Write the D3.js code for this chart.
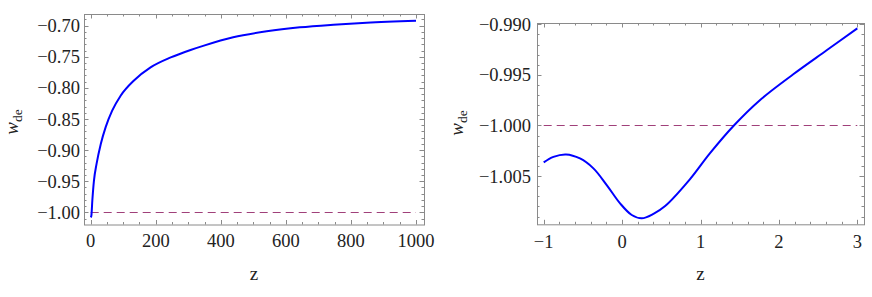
<!DOCTYPE html>
<html>
<head>
<meta charset="utf-8">
<script src="https://cdn.jsdelivr.net/npm/d3@7"></script>
<style>
  body { margin: 0; background: #fff; }
  svg { display: block; }
</style>
</head>
<body>
<svg width="872" height="297" font-family="'Liberation Serif', 'DejaVu Serif', serif"></svg>
<script>
// left panel: w_de over a long z range
var leftZ = [0, 2, 5, 10, 18, 31, 46, 66, 92, 133, 184, 246, 307, 348, 438, 541, 643, 746, 848, 1000];
var leftW = [-1.008, -1.0054, -0.981, -0.949, -0.922, -0.890, -0.863, -0.8366, -0.8125, -0.788, -0.767, -0.751, -0.739, -0.732, -0.7186, -0.709, -0.7026, -0.6984, -0.6952, -0.6922];
var leftXTicks = [0, 200, 400, 600, 800, 1000];
var leftYTicks = [-1.00, -0.95, -0.90, -0.85, -0.80, -0.75, -0.70];

// right panel: zoom on low z
var rightZ = [-1.0, -0.876, -0.715, -0.537, -0.366, -0.196, -0.026, 0.123, 0.251, 0.40, 0.549, 0.864, 1.119, 1.426, 1.757, 2.183, 2.609, 3.0];
var rightW = [-1.00365, -1.00310, -1.00286, -1.00326, -1.00424, -1.00589, -1.00770, -1.00885, -1.00918, -1.00874, -1.00797, -1.00533, -1.00276, -1.00000, -0.99750, -0.99494, -0.99257, -0.99040];
var rightXTicks = [-1, 0, 1, 2, 3];
var rightYTicks = [-1.005, -1.000, -0.995, -0.990];

var lambdaW = -1; // dashed reference line
var serif = "Liberation Serif";

var svg = d3.select("svg");

function tickValues(domain, step) {
    var out = [];
    var start = Math.ceil(domain[0] / step - 1e-9);
    var end = Math.floor(domain[1] / step + 1e-9);
    for (var i = start; i <= end; i++) out.push(i * step);
    return out;
}

function drawPanel(p) {
    var x = d3.scaleLinear().domain(p.xDomain).range([p.left, p.right]);
    var y = d3.scaleLinear().domain(p.yDomain).range([p.bottom, p.top]);
    var g = svg.append("g");
    var frameColor = "#8a8a8a";

    function isMajor(v, list) {
        return list.some(function(t) { return Math.abs(t - v) < 1e-9; });
    }

    // ticks on all four sides, pointing inward
    tickValues(p.xDomain, p.xMinor).forEach(function(v) {
        var len = isMajor(v, p.xTicks) ? 4.5 : 2.5;
        var px = Math.round(x(v)) + 0.5;
        g.append("line").attr("x1", px).attr("x2", px).attr("y1", p.bottom).attr("y2", p.bottom - len)
            .attr("stroke", frameColor);
        g.append("line").attr("x1", px).attr("x2", px).attr("y1", p.top).attr("y2", p.top + len)
            .attr("stroke", frameColor);
    });
    tickValues(p.yDomain, p.yMinor).forEach(function(v) {
        var len = isMajor(v, p.yTicks) ? 4.5 : 2.5;
        var py = Math.round(y(v)) + 0.5;
        g.append("line").attr("y1", py).attr("y2", py).attr("x1", p.left).attr("x2", p.left + len)
            .attr("stroke", frameColor);
        g.append("line").attr("y1", py).attr("y2", py).attr("x1", p.right).attr("x2", p.right - len)
            .attr("stroke", frameColor);
    });

    g.append("rect")
        .attr("x", p.left + 0.5).attr("y", p.top + 0.5)
        .attr("width", p.right - p.left).attr("height", p.bottom - p.top)
        .attr("fill", "none").attr("stroke", frameColor);

    // tick labels
    g.selectAll(".xl").data(p.xTicks).enter().append("text")
        .attr("x", function(d) { return x(d); })
        .attr("y", p.bottom + p.xLabelDy)
        .attr("text-anchor", "middle")
        .attr("font-family", serif)
        .attr("font-size", 18.5)
        .attr("fill", "#222")
        .text(function(d) { return d3.format("d")(d); });
    g.selectAll(".yl").data(p.yTicks).enter().append("text")
        .attr("x", p.left - p.yLabelGap)
        .attr("y", function(d) { return y(d); })
        .attr("dy", "0.35em")
        .attr("text-anchor", "end")
        .attr("font-family", serif)
        .attr("font-size", 18.5)
        .attr("fill", "#222")
        .text(function(d) { return d3.format(p.yFormat)(d); });

    // dashed reference
    var ly = Math.round(y(lambdaW)) + 0.5;
    g.append("line")
        .attr("x1", x(p.z[0])).attr("x2", x(p.z[p.z.length - 1]))
        .attr("y1", ly).attr("y2", ly)
        .attr("stroke", "#a0407a").attr("stroke-width", 1)
        .attr("stroke-dasharray", "8,5");

    // curve
    var line = d3.line()
        .x(function(d) { return x(d[0]); })
        .y(function(d) { return y(d[1]); })
        .curve(p.curve);
    g.append("path")
        .datum(d3.zip(p.z, p.w))
        .attr("d", line)
        .attr("fill", "none")
        .attr("stroke", "#0000ff")
        .attr("stroke-width", 2);

    // axis titles
    g.append("text")
        .attr("x", (p.left + p.right) / 2)
        .attr("y", 280)
        .attr("text-anchor", "middle")
        .attr("font-family", serif)
        .attr("font-size", 19)
        .attr("fill", "#222")
        .text("z");
    var yt = g.append("text")
        .attr("transform", "translate(" + p.yTitleX + "," + p.yTitleY + ") rotate(-90)")
        .attr("text-anchor", "middle")
        .attr("font-family", serif)
        .attr("font-size", 19)
        .attr("fill", "#222");
    yt.append("tspan").attr("font-style", "italic").text("w");
    yt.append("tspan").attr("dy", 4).attr("font-size", 13.5).text("de");
}

drawPanel({
    left: 84, right: 424, top: 14, bottom: 224.5,
    xDomain: [-20.6, 1024.6], yDomain: [-1.0195, -0.6812],
    xTicks: leftXTicks, yTicks: leftYTicks, xMinor: 50, yMinor: 0.01,
    yFormat: ".2f", yLabelGap: 4, xLabelDy: 22, z: leftZ, w: leftW,
    yTitleX: 18, yTitleY: 122, curve: d3.curveMonotoneX
});

drawPanel({
    left: 537, right: 864, top: 23, bottom: 224.3,
    xDomain: [-1.0855, 3.0855], yDomain: [-1.00977, -0.98987],
    xTicks: rightXTicks, yTicks: rightYTicks, xMinor: 0.2, yMinor: 0.001,
    yFormat: ".3f", yLabelGap: 6, xLabelDy: 23.5, z: rightZ, w: rightW,
    yTitleX: 463, yTitleY: 123, curve: d3.curveCatmullRom.alpha(0.5)
});
</script>
</body>
</html>
